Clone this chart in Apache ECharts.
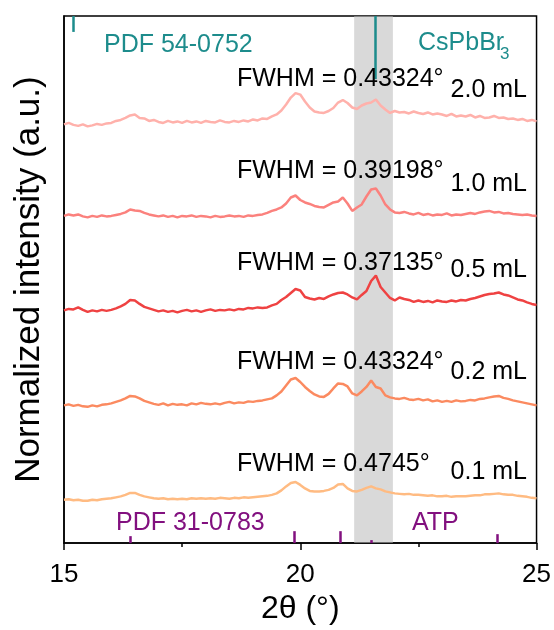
<!DOCTYPE html>
<html>
<head>
<meta charset="utf-8">
<script src="https://cdn.jsdelivr.net/npm/echarts@6/dist/echarts.min.js"></script>
<style>
  html, body { margin: 0; padding: 0; background: #fff; }
  #chart { width: 554px; height: 630px; }
</style>
</head>
<body>
<div id="chart"></div>
<script>
// 2theta grid (deg)
var twoTheta = [
  15.0,15.1,15.2,15.3,15.4,15.5,15.6,15.7,15.8,15.9,
  16.0,16.1,16.2,16.3,16.4,16.5,16.6,16.7,16.8,16.9,
  17.0,17.1,17.2,17.3,17.4,17.5,17.6,17.7,17.8,17.9,
  18.0,18.1,18.2,18.3,18.4,18.5,18.6,18.7,18.8,18.9,
  19.0,19.1,19.2,19.3,19.4,19.5,19.6,19.7,19.8,19.9,
  20.0,20.1,20.2,20.3,20.4,20.5,20.6,20.7,20.8,20.9,
  21.0,21.1,21.2,21.3,21.4,21.5,21.6,21.7,21.8,21.9,
  22.0,22.1,22.2,22.3,22.4,22.5,22.6,22.7,22.8,22.9,
  23.0,23.1,23.2,23.3,23.4,23.5,23.6,23.7,23.8,23.9,
  24.0,24.1,24.2,24.3,24.4,24.5,24.6,24.7,24.8,24.9,
  25.0
];

// intensities (a.u.)
var int20 = [
  0.2,0.5,0.1,-0.1,0.2,-0.2,0.0,0.3,0.1,0.4,
  0.5,0.9,1.1,1.5,2.0,2.2,1.5,1.4,0.9,1.1,
  0.7,0.5,0.9,0.6,0.8,0.5,0.9,0.6,0.8,0.5,
  0.9,0.7,0.6,1.0,0.7,0.6,0.9,0.7,1.0,0.8,
  1.2,1.0,1.4,1.3,1.8,2.2,3.0,4.2,5.6,6.5,
  6.2,4.8,3.6,2.8,2.6,2.5,2.9,3.5,4.6,5.1,
  4.5,3.6,3.3,4.0,4.4,4.6,5.2,4.0,3.2,2.5,
  2.9,2.6,2.7,2.4,2.8,2.5,2.3,2.6,2.2,2.4,
  2.2,1.9,2.3,1.8,2.0,1.8,2.1,1.6,1.9,1.5,
  1.6,1.9,1.5,1.6,1.3,1.4,1.1,1.3,0.9,1.1,
  0.8
];
var int10 = [
  0.3,0.6,0.4,0.6,0.2,0.0,0.3,0.1,0.4,0.2,
  0.3,0.5,0.7,1.0,1.6,1.4,1.3,0.9,0.6,0.4,
  0.2,0.4,0.1,0.3,0.0,0.3,0.2,0.4,0.1,0.3,
  0.2,0.0,0.3,0.1,0.2,0.4,0.2,0.3,0.1,0.4,
  0.3,0.5,0.6,0.9,1.3,1.6,2.0,2.8,4.0,4.4,
  3.5,3.0,2.7,2.3,2.1,2.0,2.5,3.0,3.2,4.0,
  2.8,1.3,2.0,2.6,4.2,5.6,5.8,4.4,2.6,1.6,
  1.0,0.9,1.1,0.8,0.6,0.9,0.5,0.7,0.4,0.6,
  0.5,0.8,0.4,0.6,0.5,0.7,0.9,0.7,1.0,1.2,
  1.3,1.0,1.1,0.8,0.9,0.7,0.6,0.5,0.6,0.4,
  0.3
];
var int05 = [
  0.3,0.6,0.5,0.9,0.4,0.0,0.3,0.1,0.4,0.2,
  0.4,0.7,1.1,1.6,2.4,2.3,1.6,1.0,0.7,0.4,
  0.1,0.3,0.0,0.2,-0.1,0.2,0.4,0.1,0.3,0.0,
  0.3,0.5,0.2,0.4,0.3,0.5,0.3,0.6,0.5,0.8,
  0.7,0.9,0.8,0.9,1.3,1.6,2.4,3.0,3.8,4.6,
  4.3,3.0,2.7,2.5,2.8,2.6,3.1,3.5,3.8,3.9,
  3.5,2.9,2.5,3.4,4.2,6.2,7.3,5.0,3.9,2.8,
  2.3,2.9,2.6,2.4,2.0,2.3,2.0,2.2,1.9,2.3,
  2.1,2.0,2.3,2.1,2.4,2.3,2.6,2.8,3.1,3.4,
  3.6,3.7,3.9,3.5,3.3,2.9,2.5,2.3,1.9,1.6,
  1.4
];
var int02 = [
  0.2,0.4,0.1,0.3,0.0,-0.1,0.2,0.0,0.3,0.4,
  0.6,0.9,1.2,1.6,2.1,2.0,1.6,1.1,0.8,0.5,
  0.3,0.6,0.2,0.5,0.3,0.4,0.2,0.6,0.4,0.7,
  0.5,0.4,0.6,0.4,0.7,0.9,0.6,0.8,0.7,1.0,
  0.9,1.1,1.2,1.4,1.6,2.2,3.0,4.2,5.4,5.7,
  4.9,3.9,3.1,2.4,2.0,1.9,2.5,3.6,4.6,4.5,
  4.0,2.6,2.2,3.0,3.9,5.2,3.9,3.6,2.2,1.8,
  1.6,1.5,1.7,1.4,1.3,1.5,1.2,1.4,1.0,1.2,
  0.9,1.1,0.9,1.2,1.0,1.1,1.3,1.2,1.5,1.6,
  1.8,2.0,2.1,1.7,1.5,1.2,1.0,0.8,0.6,0.4,
  0.2
];
var int01 = [
  0.2,0.3,0.1,0.2,0.0,0.0,0.2,0.1,0.3,0.4,
  0.5,0.7,0.9,1.2,1.6,1.6,1.2,0.9,0.7,0.5,
  0.4,0.5,0.3,0.4,0.3,0.4,0.3,0.5,0.4,0.5,
  0.4,0.5,0.4,0.6,0.5,0.4,0.6,0.5,0.7,0.6,
  0.7,0.8,0.9,1.0,1.2,1.5,2.1,2.9,3.6,3.8,
  3.2,2.5,2.0,1.9,1.9,2.0,2.2,2.6,3.3,3.4,
  2.5,2.0,1.9,2.2,2.6,2.9,2.5,2.3,1.9,1.7,
  1.5,1.4,1.3,1.4,1.2,1.2,1.1,1.0,1.1,0.9,
  0.9,1.0,0.8,0.9,0.9,0.9,1.0,1.1,1.1,1.3,
  1.3,1.4,1.5,1.3,1.2,1.2,1.0,0.9,0.8,0.6,
  0.5
];

var volumes = ['2.0 mL', '1.0 mL', '0.5 mL', '0.2 mL', '0.1 mL'];
var fwhm = ['0.43324', '0.39198', '0.37135', '0.43324', '0.4745'];
var offsets = [84, 65.5, 46.5, 27.5, 8.5];
var colors = ['#ffb1ab', '#fb817d', '#ef4242', '#fb8a60', '#ffbb82'];
var patterns = [int20, int10, int05, int02, int01];

// reference cards
var cspbPeaks = [15.2, 21.58];
var cspbHeights = [3.2, 12.7];
var atpPeaks = [16.41, 19.87, 20.85, 21.5, 24.16];
var atpHeights = [1.4, 2.4, 2.4, 0.6, 1.8];

var bandRange = [21.14, 21.96];

var YMAX = 106;
var FONT = '"Liberation Sans", Arial, sans-serif';

var myChart = echarts.init(document.getElementById('chart'));

var series = [];
patterns.forEach(function (p, k) {
  series.push({
    name: volumes[k],
    type: 'line',
    showSymbol: false,
    silent: true,
    z: 2,
    lineStyle: { color: colors[k], width: 2.5 },
    data: twoTheta.map(function (x, i) { return [x, offsets[k] + p[i]]; })
  });
});

// grey band, drawn over the patterns
series.push({
  type: 'line',
  data: [],
  zlevel: 1,
  z: 1,
  markArea: {
    silent: true,
    itemStyle: { color: 'rgba(185,185,185,0.55)' },
    data: [[{ xAxis: bandRange[0], yAxis: 0 }, { xAxis: bandRange[1], yAxis: YMAX }]]
  }
});

// stick patterns
series.push({
  type: 'line',
  data: [],
  zlevel: 1,
  z: 6,
  markLine: {
    silent: true,
    symbol: 'none',
    label: { show: false },
    lineStyle: { color: '#1d8c8c', width: 2.5, type: 'solid' },
    data: cspbPeaks.map(function (x, i) {
      return [{ coord: [x, YMAX] }, { coord: [x, YMAX - cspbHeights[i]] }];
    })
  }
});
series.push({
  type: 'line',
  data: [],
  zlevel: 1,
  z: 6,
  markLine: {
    silent: true,
    symbol: 'none',
    label: { show: false },
    lineStyle: { color: '#82107f', width: 2.5, type: 'solid' },
    data: atpPeaks.map(function (x, i) {
      return [{ coord: [x, 0] }, { coord: [x, atpHeights[i]] }];
    })
  }
});

var texts = [];
var fwhmY = [79, 171, 263, 362, 464];
var volY = [90, 184, 270, 372, 472];
function label(txt, x, y, size, color, align) {
  return {
    type: 'text', x: x, y: y, zlevel: 1, z: 100,
    style: { text: txt, font: size + 'px ' + FONT, fill: color, align: align || 'left', verticalAlign: 'middle' }
  };
}
for (var k = 0; k < 5; k++) {
  texts.push(label('FWHM = ' + fwhm[k] + '°', 237, fwhmY[k], 25, '#000'));
  texts.push(label(volumes[k], 527, volY[k], 25, '#000', 'right'));
}
texts.push(label('PDF 54-0752', 104, 45, 25, '#1d8c8c'));
texts.push(label('CsPbBr', 418, 43, 25, '#1d8c8c'));
texts.push(label('3', 500, 54, 17, '#1d8c8c'));
texts.push(label('PDF 31-0783', 116, 523, 25, '#82107f'));
texts.push(label('ATP', 412, 523, 25, '#82107f'));

myChart.setOption({
  animation: false,
  grid: {
    left: 64, right: 16, top: 16, bottom: 85,
    show: true, borderColor: '#000', borderWidth: 1.5, backgroundColor: 'transparent'
  },
  xAxis: {
    type: 'value',
    min: 15, max: 25, interval: 5,
    name: '2θ (°)',
    nameLocation: 'middle',
    nameGap: 46,
    nameTextStyle: { fontSize: 32, color: '#000', fontFamily: FONT },
    axisLine: { lineStyle: { color: '#000', width: 1.5 } },
    axisTick: { show: true, length: 7, lineStyle: { color: '#000', width: 1.5 } },
    minorTick: { show: true, splitNumber: 2, length: 4, lineStyle: { color: '#000', width: 1.5 } },
    axisLabel: { fontSize: 26, color: '#000', fontFamily: FONT, margin: 19 },
    splitLine: { show: false }
  },
  yAxis: {
    type: 'value',
    min: 0, max: YMAX,
    name: 'Normalized intensity (a.u.)',
    nameLocation: 'middle',
    nameGap: 17,
    nameTextStyle: { fontSize: 35, color: '#000', fontFamily: FONT },
    axisLine: { show: true, lineStyle: { color: '#000', width: 1.5 } },
    axisTick: { show: false },
    axisLabel: { show: false },
    splitLine: { show: false }
  },
  graphic: texts,
  series: series
});
</script>
</body>
</html>
